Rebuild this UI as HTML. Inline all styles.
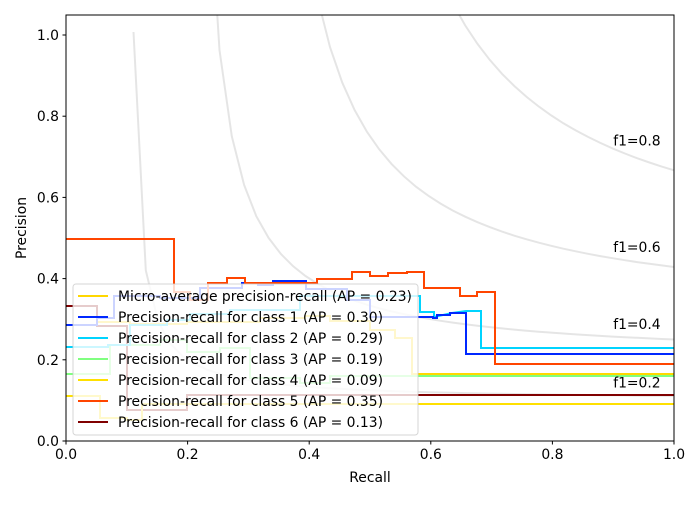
<!DOCTYPE html>
<html><head><meta charset="utf-8"><style>
body{margin:0;background:#fff}
svg{font-family:"DejaVu Sans","Liberation Sans",sans-serif}
</style></head><body>
<svg id="s" width="700" height="500" viewBox="0 0 700 500" xmlns="http://www.w3.org/2000/svg">
<defs><clipPath id="c"><rect x="66" y="15" width="608" height="426"/></clipPath></defs>
<rect width="700" height="500" fill="#fff"/>
<g id="f1" clip-path="url(#c)" fill="none" stroke="#000" stroke-opacity="0.1" stroke-width="2"></g>
<g clip-path="url(#c)" fill="none" stroke-width="2">
<!-- micro-average -->
<polyline stroke="#ffd700" points="66,306 97,306 97,322 130,322 130,324 187,324 187,322 260,322 260,318 305,318 305,316 330,316 330,321 370,321 370,330 395,330 395,338 412,338 412,374 674,374"/>
<!-- class 6 -->
<polyline stroke="#800000" points="66,306 97,306 97,326 127,326 127,410 187,410 187,395 674,395"/>
<!-- class 4 -->
<polyline stroke="#ffe000" points="66,396 100,396 100,418 127,418 127,420 142,420 142,404 674,404"/>
<!-- class 3 -->
<polyline stroke="#80ff80" points="66,374 110,374 110,345 160,345 160,340 187,340 187,352 220,352 220,348 250,348 250,378 300,378 300,383 330,383 330,376 674,376"/>
<!-- class 2 -->
<polyline stroke="#00d4ff" points="66,347 108,347 108,345 130,345 130,325 167,325 167,320 190,320 190,314 230,314 230,310 300,310 300,296 420,296 420,312 434,312 434,317 452,313 466,311 481,311 481,348 674,348"/>
<!-- class 1 -->
<polyline stroke="#0028ff" points="66,325 97,325 97,318 114,318 114,296 160,296 160,298 200,298 200,288 242,288 242,283 258,283 258,285 273,285 273,281 306,281 306,289 347,289 347,300 370,300 370,317 433,317 433,318 437,318 437,315 450,315 450,313 466,313 466,354 674,354"/>
<!-- class 5 -->
<polyline stroke="#ff4500" points="66,239 174,239 174,292 190,292 190,300 208,300 208,283 227,283 227,278 245,278 245,283 317,283 317,279 352,279 352,272 370,272 370,276 388,276 388,273 407,273 407,272 424,272 424,288 460,288 460,296 477,296 477,292 495,292 495,364 674,364"/>
</g>
<g id="lab" font-size="13.9" fill="#000"></g>
<rect x="66" y="15" width="608" height="426" fill="none" stroke="#000" stroke-width="1"/>
<g stroke="#000" stroke-width="1" id="ticks"></g>
<g font-size="13.9" fill="#000" id="tl"></g>
<text x="370" y="482" font-size="13.9" text-anchor="middle">Recall</text>
<text x="26" y="228" font-size="13.9" text-anchor="middle" transform="rotate(-90 26 228)">Precision</text>
<g>
<rect x="73" y="284" width="345" height="151" rx="3" fill="#fff" fill-opacity="0.8" stroke="#ccc" stroke-opacity="0.8"/>
<g stroke-width="2">
<line x1="78" x2="108" y1="296" y2="296" stroke="#ffd700"/>
<line x1="78" x2="108" y1="317" y2="317" stroke="#0028ff"/>
<line x1="78" x2="108" y1="338" y2="338" stroke="#00d4ff"/>
<line x1="78" x2="108" y1="359" y2="359" stroke="#80ff80"/>
<line x1="78" x2="108" y1="380" y2="380" stroke="#ffe000"/>
<line x1="78" x2="108" y1="401" y2="401" stroke="#ff4500"/>
<line x1="78" x2="108" y1="422" y2="422" stroke="#800000"/>
</g>
<g font-size="13.9" fill="#000">
<text x="118" y="301">Micro-average precision-recall (AP = 0.23)</text>
<text x="118" y="322">Precision-recall for class 1 (AP = 0.30)</text>
<text x="118" y="343">Precision-recall for class 2 (AP = 0.29)</text>
<text x="118" y="364">Precision-recall for class 3 (AP = 0.19)</text>
<text x="118" y="385">Precision-recall for class 4 (AP = 0.09)</text>
<text x="118" y="406">Precision-recall for class 5 (AP = 0.35)</text>
<text x="118" y="427">Precision-recall for class 6 (AP = 0.13)</text>
</g></g>
</svg>
<script>
var NS="http://www.w3.org/2000/svg";
function X(r){return 66+608*r}function Y(p){return 441-406*p}
function el(t,a,p,txt){var e=document.createElementNS(NS,t);for(var k in a)e.setAttribute(k,a[k]);if(txt)e.textContent=txt;p.appendChild(e);return e}
var f1=document.getElementById('f1'),lab=document.getElementById('lab');
[0.2,0.4,0.6,0.8].forEach(function(f){
 var pts=[],xs=[],ys=[];
 for(var i=0;i<50;i++){var x=0.01+i*0.99/49;var y=f*x/(2*x-f);xs.push(x);ys.push(y);if(y>=0)pts.push(X(x).toFixed(1)+","+Y(y).toFixed(1));}
 el('polyline',{points:pts.join(' ')},f1);
 el('text',{x:X(0.9),y:Y(ys[45]+0.02)},lab,"f1="+f);
});
var tk=document.getElementById('ticks'),tl=document.getElementById('tl');
for(var i=0;i<=5;i++){var v=i*0.2;
 el('line',{x1:X(v),x2:X(v),y1:441,y2:444.5},tk);
 el('text',{x:X(v),y:459,'text-anchor':'middle'},tl,v.toFixed(1));
 el('line',{x1:62.5,x2:66,y1:Y(v),y2:Y(v)},tk);
 el('text',{x:59,y:Y(v)+5,'text-anchor':'end'},tl,v.toFixed(1));
}
</script>
</body></html>
